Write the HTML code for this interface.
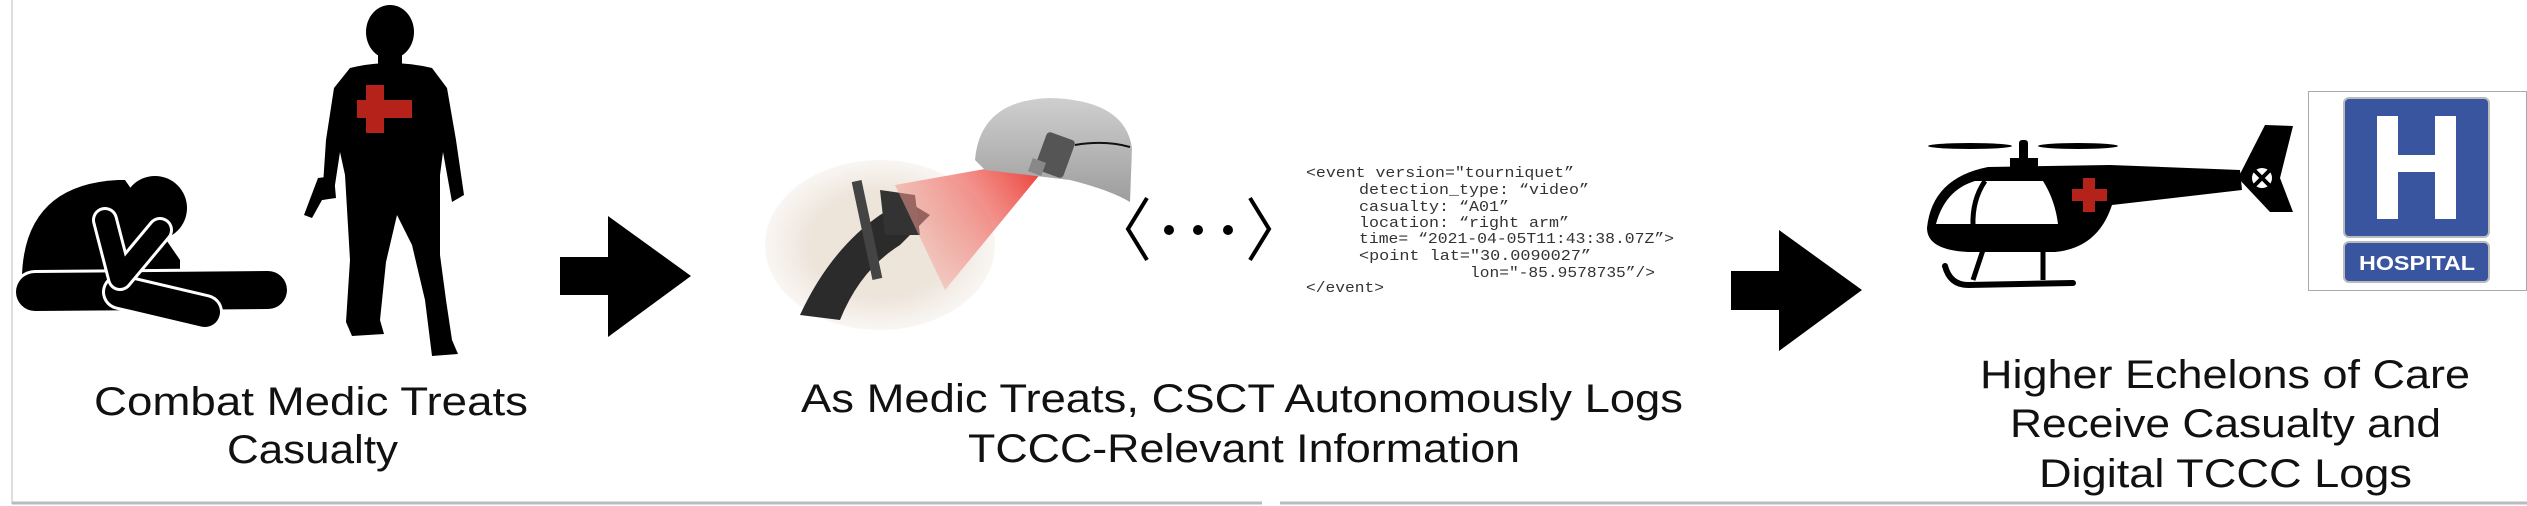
<!DOCTYPE html>
<html><head><meta charset="utf-8"><style>
html,body{margin:0;padding:0;background:#fff;}
svg{display:block;}
text{font-family:"Liberation Sans",sans-serif;fill:#111;}
.code text{font-family:"Liberation Mono",monospace;font-size:15px;fill:#333;}
</style></head><body>
<svg width="2527" height="506" viewBox="0 0 2527 506" xmlns="http://www.w3.org/2000/svg">
<defs>
<linearGradient id="beam" x1="1" y1="0" x2="0" y2="0.6">
<stop offset="0" stop-color="#e8231a"/><stop offset="1" stop-color="#f4b0a8" stop-opacity="0.5"/></linearGradient>
<radialGradient id="skin" cx="0.5" cy="0.5" r="0.6"><stop offset="0.5" stop-color="#ede4da"/><stop offset="1" stop-color="#fff"/></radialGradient>
<linearGradient id="helm" x1="0" y1="0" x2="0" y2="1"><stop offset="0" stop-color="#cfcfcf"/><stop offset="1" stop-color="#9d9d9d"/></linearGradient>
</defs>
<line x1="12" y1="0" x2="12" y2="504" stroke="#ddd" stroke-width="2"/>
<line x1="12" y1="503" x2="1262" y2="503" stroke="#bbb" stroke-width="3"/>
<line x1="1280" y1="503" x2="2527" y2="503" stroke="#bbb" stroke-width="3"/>

<!-- casualty -->
<path d="M22,290 Q18,185 118,180 L125,180 L180,260 L180,290 Z" fill="#000"/>
<circle cx="155" cy="208" r="32" fill="#000"/>
<line x1="35" y1="292" x2="268" y2="290" stroke="#fff" stroke-width="44" stroke-linecap="round"/>
<line x1="35" y1="292" x2="268" y2="290" stroke="#000" stroke-width="38" stroke-linecap="round"/>
<line x1="120" y1="292" x2="205" y2="312" stroke="#fff" stroke-width="36" stroke-linecap="round"/>
<line x1="120" y1="292" x2="205" y2="312" stroke="#000" stroke-width="30" stroke-linecap="round"/>
<path d="M105,220 L120,278 L160,230" fill="none" stroke="#fff" stroke-width="26" stroke-linecap="round" stroke-linejoin="round"/>
<path d="M105,220 L120,278 L160,230" fill="none" stroke="#000" stroke-width="20" stroke-linecap="round" stroke-linejoin="round"/>

<!-- medic -->
<ellipse cx="390" cy="32" rx="24" ry="27" fill="#000"/>
<rect x="378" y="50" width="24" height="20" fill="#000"/>
<path d="M350,68 Q390,58 432,68 L447,88 L456,140 L464,195 L452,202 L443,152 L440,175 L440,255 L446,300 L452,340 L458,354 L432,356 L425,300 L412,245 L397,215 L386,262 L380,320 L384,334 L352,336 L346,322 L350,260 L345,175 L340,152 L333,198 L322,200 L326,140 L334,88 Z" fill="#000"/>
<path d="M318,178 L334,176 L336,198 L322,200 L312,218 L304,215 Z" fill="#000"/>
<rect x="366" y="85" width="18" height="48" fill="#b5221a"/>
<rect x="357" y="100" width="55" height="18" fill="#b5221a"/>

<polygon points="560,257 608,257 608,216 691,276 608,337 608,295 560,295" fill="#000"/>

<!-- hand image -->
<ellipse cx="880" cy="245" rx="115" ry="85" fill="url(#skin)"/>
<path d="M800,315 Q830,250 880,215 L905,200 L930,215 L900,245 Q860,270 840,320 Z" fill="#2b2b2b"/>
<rect x="862" y="180" width="10" height="100" fill="#444" transform="rotate(-12 867 230)"/>
<path d="M880,190 L915,195 L920,235 L885,235 Z" fill="#333"/>
<polygon points="1035,160 1042,172 945,290 895,185" fill="url(#beam)" opacity="0.9"/>
<path d="M975,160 Q980,100 1050,98 Q1125,100 1132,148 L1130,202 Q1110,190 1070,180 L985,170 Z" fill="url(#helm)"/>
<rect x="1040" y="135" width="30" height="40" rx="4" fill="#555" transform="rotate(20 1055 155)"/>
<rect x="1030" y="160" width="14" height="14" fill="#888" transform="rotate(20 1037 167)"/>
<path d="M1075,145 Q1105,140 1130,147" fill="none" stroke="#111" stroke-width="2"/>

<polyline points="1147,198 1128,229 1147,260" fill="none" stroke="#000" stroke-width="4"/>
<polyline points="1250,198 1269,229 1250,260" fill="none" stroke="#000" stroke-width="4"/>
<circle cx="1169" cy="230" r="5" fill="#000"/><circle cx="1198" cy="230" r="5" fill="#000"/><circle cx="1228" cy="230" r="5" fill="#000"/>

<g class="code">
<text x="1306" y="177" textLength="268" lengthAdjust="spacingAndGlyphs">&lt;event version="tourniquet”</text>
<text x="1359" y="194" textLength="230" lengthAdjust="spacingAndGlyphs">detection_type: “video”</text>
<text x="1359" y="211" textLength="150" lengthAdjust="spacingAndGlyphs">casualty: “A01”</text>
<text x="1359" y="227" textLength="210" lengthAdjust="spacingAndGlyphs">location: “right arm”</text>
<text x="1359" y="243" textLength="315" lengthAdjust="spacingAndGlyphs">time= “2021-04-05T11:43:38.07Z”&gt;</text>
<text x="1359" y="260" textLength="232" lengthAdjust="spacingAndGlyphs">&lt;point lat="30.0090027”</text>
<text x="1470" y="277" textLength="185" lengthAdjust="spacingAndGlyphs">lon="-85.9578735”/&gt;</text>
<text x="1306" y="292" textLength="78" lengthAdjust="spacingAndGlyphs">&lt;/event&gt;</text>
</g>

<polygon points="1731,271 1779,271 1779,230 1862,290 1779,351 1779,310 1731,310" fill="#000"/>

<!-- helicopter -->
<ellipse cx="1970" cy="146" rx="42" ry="3" fill="#000"/>
<ellipse cx="2078" cy="146" rx="40" ry="3" fill="#000"/>
<rect x="2019" y="140" width="9" height="22" rx="3" fill="#000"/>
<rect x="2010" y="158" width="28" height="10" fill="#000"/>
<path d="M1927,228 Q1932,178 1988,167 L2110,165 L2240,170 L2242,190 L2112,205 Q2098,248 2055,252 L1968,252 Q1927,250 1927,228 Z" fill="#000"/>
<path d="M1936,224 Q1945,190 1975,181 L2043,181 Q2055,200 2058,224 Z" fill="#fff"/>
<path d="M1985,181 Q1972,200 1973,226" fill="none" stroke="#000" stroke-width="5"/>
<polygon points="2265,125 2293,126 2280,178 2293,212 2270,212 2238,178" fill="#000"/>
<circle cx="2262" cy="178" r="17" fill="#000"/>
<circle cx="2262" cy="178" r="10" fill="#fff"/>
<line x1="2252" y1="168" x2="2272" y2="188" stroke="#000" stroke-width="4"/>
<line x1="2272" y1="168" x2="2252" y2="188" stroke="#000" stroke-width="4"/>
<rect x="2083" y="178" width="12" height="34" fill="#b5221a"/>
<rect x="2072" y="189" width="35" height="12" fill="#b5221a"/>
<line x1="1983" y1="250" x2="1973" y2="280" stroke="#000" stroke-width="5"/>
<line x1="2043" y1="250" x2="2043" y2="280" stroke="#000" stroke-width="5"/>
<path d="M1945,266 Q1950,285 1968,285 L2073,283" fill="none" stroke="#000" stroke-width="6" stroke-linecap="round"/>

<rect x="2308.5" y="91.5" width="218" height="199" fill="#fff" stroke="#aaa" stroke-width="1"/>
<rect x="2344" y="98" width="145" height="139" rx="5" fill="#3a55a0" stroke="#bbb" stroke-width="2"/>
<polygon points="2377,116 2398,116 2398,155 2435,155 2435,116 2456,116 2456,219 2435,219 2435,172 2398,172 2398,219 2377,219" fill="#fff"/>
<rect x="2344" y="242" width="145" height="40" rx="5" fill="#3a55a0" stroke="#bbb" stroke-width="2"/>
<text x="2417" y="270" text-anchor="middle" font-size="20" font-weight="bold" style="fill:#fff" textLength="116" lengthAdjust="spacingAndGlyphs">HOSPITAL</text>

<g font-size="40">
<text x="94" y="415" textLength="434" lengthAdjust="spacingAndGlyphs">Combat Medic Treats</text>
<text x="227" y="463" textLength="171" lengthAdjust="spacingAndGlyphs">Casualty</text>
<text x="801" y="412" textLength="882" lengthAdjust="spacingAndGlyphs">As Medic Treats, CSCT Autonomously Logs</text>
<text x="968" y="462" textLength="552" lengthAdjust="spacingAndGlyphs">TCCC-Relevant Information</text>
<text x="1980" y="388" textLength="490" lengthAdjust="spacingAndGlyphs">Higher Echelons of Care</text>
<text x="2010" y="437" textLength="431" lengthAdjust="spacingAndGlyphs">Receive Casualty and</text>
<text x="2039" y="487" textLength="373" lengthAdjust="spacingAndGlyphs">Digital TCCC Logs</text>
</g>
</svg>
</body></html>
